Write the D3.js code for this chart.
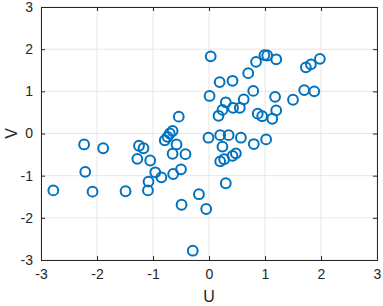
<!DOCTYPE html>
<html>
<head>
<meta charset="utf-8">
<script src="https://cdn.jsdelivr.net/npm/d3@7"></script>
<style>
  body { margin: 0; background: #fff; }
  text { font-family: "Liberation Sans", Arial, sans-serif; fill: #262626; }
</style>
</head>
<body>
<script>
// U and V values
const uValues = [
  -2.78, -2.23, -2.21, -2.08, -1.89, -1.49, -1.28, -1.25, -1.17, -1.05,
  -1.08, -1.09, -0.96, -0.85, -0.79, -0.74, -0.70, -0.65, -0.65, -0.58,
  -0.54, -0.64, -0.50, -0.42, -0.49, -0.18, -0.05, -0.29, 0.03, 0.01,
  -0.01, 0.19, 0.42, 0.17, 0.24, 0.30, 0.43, 0.55, 0.62, 0.70,
  0.79, 0.84, 0.99, 1.04, 1.20, 0.87, 0.95, 1.13, 1.18, 1.20,
  1.50, 1.70, 1.88, 1.73, 1.82, 1.98, 0.20, 0.35, 0.57, 0.24,
  0.80, 1.02, 0.20, 0.27, 0.42, 0.48, 0.30
];
const vValues = [
  -1.35, -0.26, -0.91, -1.38, -0.35, -1.37, -0.60, -0.29, -0.35, -0.64,
  -1.14, -1.35, -0.92, -1.04, -0.16, -0.08, 0.00, 0.06, -0.48, -0.26,
  0.40, -0.96, -0.85, -0.49, -1.69, -1.44, -1.79, -2.78, 1.83, 0.89,
  -0.10, 1.22, 1.25, 0.42, 0.56, 0.74, 0.61, 0.61, 0.81, 1.43,
  1.01, 1.70, 1.86, 1.85, 1.76, 0.47, 0.41, 0.35, 0.87, 0.55,
  0.80, 1.03, 1.00, 1.57, 1.64, 1.77, -0.04, -0.04, -0.10, -0.31,
  -0.25, -0.14, -0.66, -0.61, -0.53, -0.47, -1.18
];
const uTicks = [-3, -2, -1, 0, 1, 2, 3];
const vTicks = [-3, -2, -1, 0, 1, 2, 3];

const width = 383, height = 306;
const margin = {top: 7, right: 6, bottom: 46, left: 41};
const iw = width - margin.left - margin.right;
const ih = height - margin.top - margin.bottom;

const svg = d3.select("body").append("svg")
    .attr("width", width)
    .attr("height", height);

const g = svg.append("g")
    .attr("transform", `translate(${margin.left},${margin.top})`);

const x = d3.scaleLinear().domain([-3, 3]).range([0, iw]);
const y = d3.scaleLinear().domain([-3, 3]).range([ih, 0]);

// grid
g.append("g").selectAll("line").data(uTicks).enter().append("line")
    .attr("x1", d => x(d)).attr("x2", d => x(d))
    .attr("y1", 0).attr("y2", ih)
    .attr("stroke", "#e6e6e6").attr("stroke-width", 1);
g.append("g").selectAll("line").data(vTicks).enter().append("line")
    .attr("y1", d => y(d)).attr("y2", d => y(d))
    .attr("x1", 0).attr("x2", iw)
    .attr("stroke", "#e6e6e6").attr("stroke-width", 1);

// axes with inward ticks
const fmt = d => String(d); // plain hyphen like MATLAB
const xAxis = g.append("g").attr("transform", `translate(0,${ih})`)
    .call(d3.axisBottom(x).tickValues(uTicks).tickSize(-4).tickPadding(9).tickFormat(fmt));
const yAxis = g.append("g")
    .call(d3.axisLeft(y).tickValues(vTicks).tickSize(-4).tickPadding(8).tickFormat(fmt));
const topAxis = g.append("g")
    .call(d3.axisTop(x).tickValues(uTicks).tickSize(-4).tickFormat(""));
const rightAxis = g.append("g").attr("transform", `translate(${iw},0)`)
    .call(d3.axisRight(y).tickValues(vTicks).tickSize(-4).tickFormat(""));
topAxis.selectAll(".tick text").remove();
rightAxis.selectAll(".tick text").remove();

g.selectAll(".domain").attr("stroke", "#262626");
g.selectAll(".tick line").attr("stroke", "#262626");
g.selectAll(".tick text")
    .style("font-size", "14px")
    .attr("fill", "#262626")
    .style("font-family", "'Liberation Sans', Arial, sans-serif");

// axis labels
svg.append("text")
    .attr("x", margin.left + iw / 2)
    .attr("y", 302)
    .attr("text-anchor", "middle")
    .style("font-size", "16px")
    .text("U");
svg.append("text")
    .attr("transform", `translate(17,${margin.top + ih / 2}) rotate(-90)`)
    .attr("text-anchor", "middle")
    .style("font-size", "16px")
    .text("V");

// points
g.append("g").selectAll("circle")
    .data(uValues.map((u, i) => [u, vValues[i]]))
    .enter().append("circle")
    .attr("cx", d => x(d[0]))
    .attr("cy", d => y(d[1]))
    .attr("r", 4.9)
    .attr("fill", "none")
    .attr("stroke", "#0072BD")
    .attr("stroke-width", 2);
</script>
</body>
</html>
